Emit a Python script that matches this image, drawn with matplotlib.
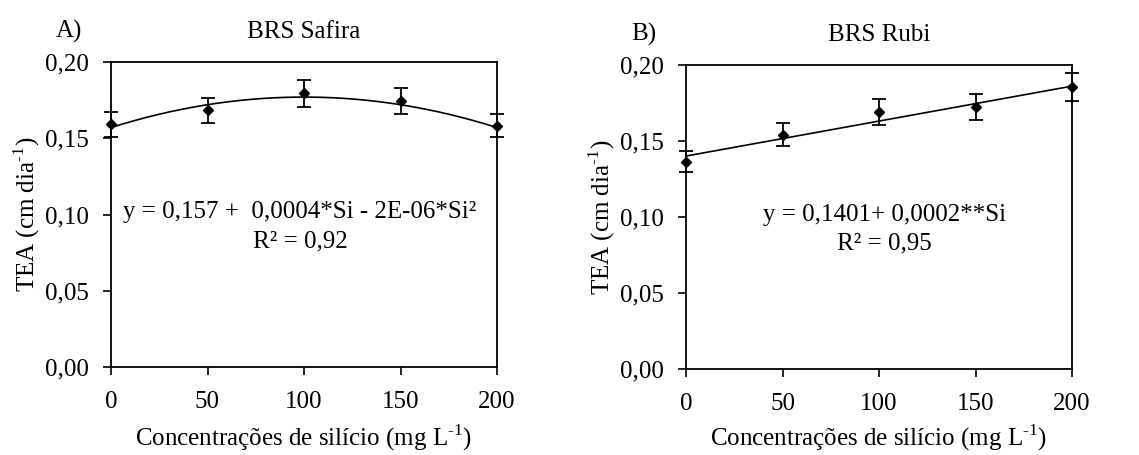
import matplotlib
matplotlib.use("Agg")
import matplotlib.pyplot as plt
import numpy as np

plt.rcParams['font.family'] = ['Liberation Serif', 'DejaVu Serif']
plt.rcParams['mathtext.fontset'] = 'custom'
plt.rcParams['mathtext.rm'] = 'Liberation Serif'

si = [0, 50, 100, 150, 200]

# BRS Safira
safira_mean = [0.1592, 0.1685, 0.1795, 0.1744, 0.1582]
safira_err = [0.0082, 0.0082, 0.0090, 0.0085, 0.0077]
safira_coef = [0.157, 0.0004, -2e-06]

# BRS Rubi
rubi_mean = [0.1364, 0.1541, 0.1689, 0.1724, 0.1853]
rubi_err = [0.0070, 0.0075, 0.0086, 0.0085, 0.0093]
rubi_coef = [0.1401, 0.00023]

yticks = [0.0, 0.05, 0.10, 0.15, 0.20]
ytick_labels = ['0,00', '0,05', '0,10', '0,15', '0,20']

FS = 18

fig = plt.figure(figsize=(11.39, 4.55), dpi=100)
axA = fig.add_axes([111 / 1139, 1 - 367 / 455, 386 / 1139, 305 / 455])
axB = fig.add_axes([686 / 1139, 1 - 369 / 455, 386 / 1139, 304 / 455])

xs = np.linspace(0, 200, 200)
fitA = safira_coef[0] + safira_coef[1] * xs + safira_coef[2] * xs ** 2
fitB = rubi_coef[0] + rubi_coef[1] * xs

panels = [
    (axA, safira_mean, safira_err, fitA, 'A)', 'BRS Safira',
     'y = 0,157 +  0,0004*Si - 2E-06*Si²', 'R² = 0,92', 98, 7),
    (axB, rubi_mean, rubi_err, fitB, 'B)', 'BRS Rubi',
     'y = 0,1401+ 0,0002**Si', 'R² = 0,95', 103, 6),
]

for ax, mean, err, fit, tag, title, eq, r2, eqx, lpad in panels:
    ax.plot(xs, fit, color='black', lw=1.2, zorder=2)
    ax.errorbar(si, mean, yerr=err, fmt='D', color='black', ms=5.5,
                ecolor='black', elinewidth=1.3, capsize=5, capthick=1.3,
                zorder=3, clip_on=False)
    ax.set_xlim(0, 200)
    ax.set_ylim(0, 0.20)
    ax.set_xticks(si)
    ax.set_xticklabels([str(v) for v in si])
    ax.set_yticks(yticks)
    ax.set_yticklabels(ytick_labels)
    ax.tick_params(direction='out', length=6, width=1.2, labelsize=FS)
    ax.tick_params(axis='x', pad=11)
    ax.tick_params(axis='y', pad=10)
    for s in ax.spines.values():
        s.set_linewidth(1.3)
    ax.set_ylabel(r'TEA (cm dia$^{\text{-1}}$)', fontsize=FS, labelpad=2)
    ax.set_xlabel(r'Concentrações de silício (mg L$^{\text{-1}}$)',
                  fontsize=FS, labelpad=lpad)
    ax.text(0.5, 1.1, title, transform=ax.transAxes, ha='center',
            va='center', fontsize=FS)
    ax.text(-0.11, 1.1, tag, transform=ax.transAxes, ha='center',
            va='center', fontsize=FS)
    ax.text(eqx, 0.1016, eq, ha='center', va='center', fontsize=FS)
    ax.text(eqx, 0.0825, r2, ha='center', va='center', fontsize=FS)

fig.savefig('out.png', dpi=100)
